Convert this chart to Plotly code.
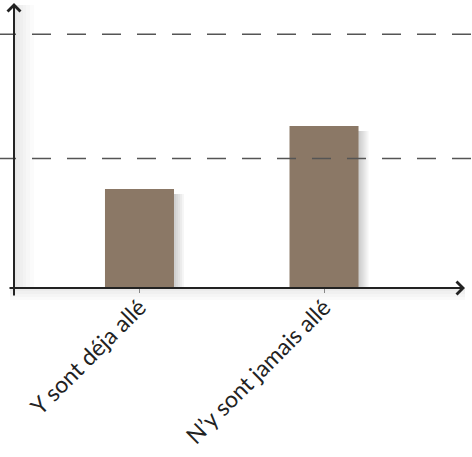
import plotly.graph_objects as go

categories = ["Y sont déja allé", "N\u2019y sont jamais allé"]
positions = [0, 1]
values = [7.8, 12.76]
grid_levels = [10.2, 20]

W, H = 472, 457
ML, MR, MT, MB = 14, 7, 5, 169
PW = W - ML - MR
PH = H - MT - MB
BAR_COLOR = "#8b7866"
BAR_W = 0.374
X0, X1 = -0.680, 1.764
Y1 = 22.3
PX_X = (X1 - X0) / PW   # data units per pixel (x)
PX_Y = Y1 / PH          # data units per pixel (y)

fig = go.Figure()

# soft shadows behind bars
for d in [10, 8, 6, 4, 2]:
    fig.add_trace(go.Bar(
        x=positions, y=[v - 5 * PX_Y for v in values],
        width=BAR_W, offset=-BAR_W / 2 + d * PX_X,
        marker=dict(color="rgba(0,0,0,0.04)", line=dict(width=0)),
        hoverinfo="skip", showlegend=False,
    ))

fig.add_trace(go.Bar(
    x=positions, y=values, width=BAR_W,
    marker=dict(color=BAR_COLOR, line=dict(width=0)),
    showlegend=False,
))

shapes = []
# y-axis shadow (soft gradient)
for w in [20, 16, 12, 9, 6, 3]:
    shapes.append(dict(type="rect", xref="paper", yref="paper",
                       x0=0, x1=w / PW, y0=0, y1=1,
                       fillcolor="rgba(0,0,0,0.014)", line=dict(width=0), layer="below"))
# x-axis shadow
for h in [12, 9, 6, 3]:
    shapes.append(dict(type="rect", xref="paper", yref="paper",
                       x0=-4 / PW, x1=1, y0=-h / PH, y1=0,
                       fillcolor="rgba(0,0,0,0.02)", line=dict(width=0), layer="below"))
# dashed gridlines
for g in grid_levels:
    shapes.append(dict(type="line", xref="paper", yref="y",
                       x0=-17 / PW, x1=(W - ML) / PW, y0=g, y1=g,
                       line=dict(color="#555555", width=1.6, dash="19px,16px"),
                       layer="above"))

annotations = [
    # y axis with arrow
    dict(x=0, y=1 + 2 / PH, xref="paper", yref="paper", ax=0, ay=PH + 11,
         showarrow=True, arrowhead=4, arrowsize=1.25, arrowwidth=2,
         arrowcolor="#222222", text=""),
    # x axis with arrow
    dict(x=1, y=0, xref="paper", yref="paper", ax=-(PW + 6), ay=0,
         showarrow=True, arrowhead=4, arrowsize=1.25, arrowwidth=2,
         arrowcolor="#222222", text=""),
]

fig.update_layout(
    width=W, height=H,
    margin=dict(l=ML, r=MR, t=MT, b=MB),
    plot_bgcolor="white", paper_bgcolor="white",
    barmode="overlay",
    shapes=shapes,
    annotations=annotations,
    xaxis=dict(
        range=[X0, X1], tickvals=positions, ticktext=categories,
        tickangle=-45, showgrid=False, zeroline=False, showline=False,
        ticks="outside", ticklen=4, tickwidth=1, tickcolor="#888888",
        ticklabelstandoff=-8,
        tickfont=dict(family="Lato, Open Sans, sans-serif", size=23, color="#222222"),
    ),
    yaxis=dict(
        range=[0, Y1], showgrid=False, zeroline=False, showline=False,
        showticklabels=False, ticks="",
    ),
)

fig.write_html("out.html", config={"displayModeBar": False},
               post_script="document.body.style.margin='0';")
